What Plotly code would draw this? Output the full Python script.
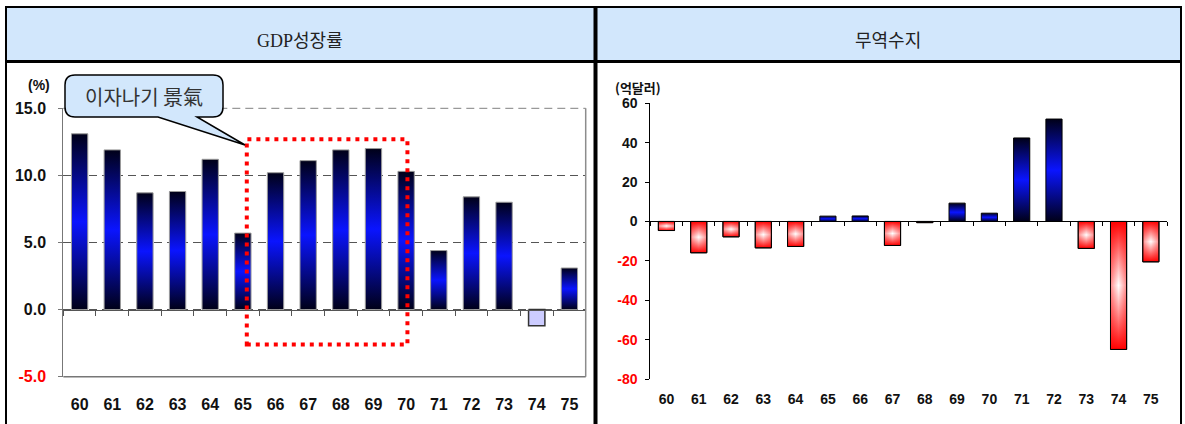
import plotly.graph_objects as go

# ---- data -------------------------------------------------------------
years = ["60", "61", "62", "63", "64", "65", "66", "67",
         "68", "69", "70", "71", "72", "73", "74", "75"]
gdp_growth = [13.1, 11.9, 8.7, 8.8, 11.2, 5.7, 10.2, 11.1,
              11.9, 12.0, 10.3, 4.4, 8.4, 8.0, -1.2, 3.1]
trade_balance = [-4.6, -15.9, -7.8, -13.4, -12.7, 2.7, 2.8, -12.2,
                 -0.6, 9.3, 4.2, 42.4, 52.0, -13.7, -65.0, -20.5]
gdp_ticks = [-5, 0, 5, 10, 15]
trade_ticks = [-80, -60, -40, -20, 0, 20, 40, 60]

# boom period highlighted on the growth chart (category index / value)
boom_box = dict(x0=5.12, x1=10.04, y0=-2.6, y1=12.7)
boom_label = "이자나기 景氣"

# ---- geometry helpers -------------------------------------------------
W, H = 1185, 424


def fx(p):
    return p / W


def fy(p):
    return 1 - p / H


BAR_W = 0.5
BLUE_SCALE = [[0, "#000018"], [0.5, "#0a14ff"], [1, "#000018"]]
RED_SCALE = [[0, "#ff0000"], [0.5, "#ffffff"], [1, "#ff0000"]]
RED_SIDES = [[0, "rgba(255,0,0,0.45)"], [0.5, "rgba(255,0,0,0)"], [1, "rgba(255,0,0,0.45)"]]

left_x = [fx(63.3), fx(585.7)]
left_y = [fy(376.7), fy(108.3)]
right_x = [fx(650.3), fx(1167.0)]
right_y = [fy(379.0), fy(103.3)]

gdp_range = [gdp_ticks[0], gdp_ticks[-1]]
trade_range = [trade_ticks[0], trade_ticks[-1]]


def zero_pos(dom, rng):
    return dom[0] + (0 - rng[0]) / (rng[1] - rng[0]) * (dom[1] - dom[0])


def bar_shape(i, v, xa, ya, scale=None, solid=None, line="#000000",
              direction="vertical", line_width=1):
    hw = BAR_W / 2
    kw = dict(
        x=[i - hw, i + hw, i + hw, i - hw, i - hw],
        y=[0, 0, v, v, 0],
        mode="lines",
        fill="toself",
        line=dict(color=line, width=line_width),
        xaxis=xa, yaxis=ya,
        hoverinfo="skip", showlegend=False,
    )
    if scale is not None:
        kw["fillgradient"] = dict(type=direction, colorscale=scale)
    else:
        kw["fillcolor"] = solid
    return go.Scatter(**kw)


fig = go.Figure()

# GDP growth bars
for i, v in enumerate(gdp_growth):
    if v >= 0:
        fig.add_trace(bar_shape(i, v, "x", "y", scale=BLUE_SCALE, line="#9a9a9a"))
    else:
        fig.add_trace(bar_shape(i, v, "x", "y", solid="#ccccff", line="#333333",
                                line_width=1.5))

# trade balance bars (deficits shaded from the centre outwards in red)
for i, v in enumerate(trade_balance):
    if v >= 0:
        fig.add_trace(bar_shape(i, v, "x2", "y2", scale=BLUE_SCALE, line="#000000"))
    else:
        fig.add_trace(bar_shape(i, v, "x2", "y2", scale=RED_SCALE, line="#000000"))
        fig.add_trace(bar_shape(i, v, "x2", "y2", scale=RED_SIDES, line="#000000",
                                direction="horizontal"))


def tick_text(vals, fmt):
    out = []
    for v in vals:
        s = fmt.format(v)
        if v < 0:
            s = '<span style="color:#ff0000">' + s + "</span>"
        out.append(s)
    return out


big_font = dict(family="Liberation Sans, Arial", size=16, color="#111111", weight="bold")
small_font = dict(family="Liberation Sans, Arial", size=14, color="#111111", weight="bold")
bounds = [i - 0.5 for i in range(len(years) + 1)]

fig.update_layout(
    width=W, height=H,
    margin=dict(l=0, r=0, t=0, b=0, autoexpand=False),
    paper_bgcolor="white", plot_bgcolor="white",
    showlegend=False,
    xaxis=dict(
        domain=left_x, range=[-0.5, len(years) - 0.5],
        anchor="free", position=zero_pos(left_y, gdp_range),
        tickmode="array", tickvals=list(range(len(years))), ticktext=years,
        ticks="", tickfont=big_font, ticklabelstandoff=80,
        showline=True, linecolor="#555555", linewidth=1,
        minor=dict(tickvals=bounds, ticks="outside", ticklen=5,
                   tickcolor="#555555", tickwidth=1),
        showgrid=False, zeroline=False, fixedrange=True, automargin=False,
    ),
    yaxis=dict(
        domain=left_y, range=gdp_range, anchor="x",
        tickmode="array", tickvals=gdp_ticks,
        ticktext=tick_text(gdp_ticks, "{:.1f}"),
        ticks="outside", ticklen=4, tickcolor="#777777",
        tickfont=big_font, ticklabelstandoff=9,
        showline=True, linecolor="#777777", linewidth=1,
        showgrid=True, gridcolor="#555555", griddash="8px,5px", gridwidth=1,
        zeroline=False, fixedrange=True, automargin=False,
    ),
    xaxis2=dict(
        domain=right_x, range=[-0.5, len(years) - 0.5],
        anchor="free", position=zero_pos(right_y, trade_range),
        tickmode="array", tickvals=list(range(len(years))), ticktext=years,
        ticks="", tickfont=small_font, ticklabelstandoff=165,
        showline=True, linecolor="#000000", linewidth=1,
        minor=dict(tickvals=bounds, ticks="outside", ticklen=4,
                   tickcolor="#000000", tickwidth=1),
        showgrid=False, zeroline=False, fixedrange=True, automargin=False,
    ),
    yaxis2=dict(
        domain=right_y, range=trade_range, anchor="x2",
        tickmode="array", tickvals=trade_ticks,
        ticktext=tick_text(trade_ticks, "{:d}"),
        ticks="outside", ticklen=4, tickcolor="#000000",
        tickfont=small_font, ticklabelstandoff=5,
        showline=True, linecolor="#000000", linewidth=1,
        showgrid=False, zeroline=False, fixedrange=True, automargin=False,
    ),
)

# ---- frame, header band ----------------------------------------------
HEAD = "#d2e7fc"
shapes = [
    dict(type="rect", xref="paper", yref="paper", x0=fx(6), x1=fx(1181),
         y0=fy(61), y1=fy(7), fillcolor=HEAD, line=dict(width=0), layer="below"),
    dict(type="line", xref="paper", yref="paper", x0=fx(5), x1=fx(1182),
         y0=fy(7), y1=fy(7), line=dict(color="black", width=2)),
    dict(type="line", xref="paper", yref="paper", x0=fx(5), x1=fx(1182),
         y0=fy(61.5), y1=fy(61.5), line=dict(color="black", width=3)),
    dict(type="line", xref="paper", yref="paper", x0=fx(6), x1=fx(6),
         y0=-0.02, y1=fy(6), line=dict(color="black", width=2)),
    dict(type="line", xref="paper", yref="paper", x0=fx(1181), x1=fx(1181),
         y0=-0.02, y1=fy(6), line=dict(color="black", width=2)),
    dict(type="line", xref="paper", yref="paper", x0=fx(595.5), x1=fx(595.5),
         y0=-0.02, y1=fy(6), line=dict(color="black", width=4)),
    # plot-area border of the growth chart (top dashed, right and bottom solid)
    dict(type="line", xref="x domain", yref="y domain", x0=0, x1=1, y0=1, y1=1,
         line=dict(color="#808080", width=1, dash="8px,5px"), layer="below"),
    dict(type="line", xref="x domain", yref="y domain", x0=1, x1=1, y0=0, y1=1,
         line=dict(color="#8c8c8c", width=1.5)),
    dict(type="line", xref="x domain", yref="y domain", x0=0, x1=1, y0=0, y1=0,
         line=dict(color="#777777", width=1.5)),
    # highlighted boom period
    dict(type="rect", xref="x", yref="y", layer="above",
         x0=boom_box["x0"], x1=boom_box["x1"], y0=boom_box["y0"], y1=boom_box["y1"],
         line=dict(color="#ff0000", width=4, dash="4px,5px")),
]

# speech bubble with pointer
bx0, bx1, by0, by1, r = 65, 223, 75, 117, 10
pts = [
    ("M", (bx0 + r, by0)), ("L", (bx1 - r, by0)), ("Q", (bx1, by0), (bx1, by0 + r)),
    ("L", (bx1, by1 - r)), ("Q", (bx1, by1), (bx1 - r, by1)),
    ("L", (197, by1)), ("L", (245, 145)), ("L", (158, by1)),
    ("L", (bx0 + r, by1)), ("Q", (bx0, by1), (bx0, by1 - r)),
    ("L", (bx0, by0 + r)), ("Q", (bx0, by0), (bx0 + r, by0)),
]
path = ""
for cmd, *coords in pts:
    path += cmd + " " + " ".join(f"{fx(a):.5f},{fy(b):.5f}" for a, b in coords) + " "
path += "Z"
shapes.append(dict(type="path", xref="paper", yref="paper", path=path,
                   fillcolor=HEAD, line=dict(color="black", width=1.5), layer="above"))
fig.update_layout(shapes=shapes)

# ---- text ------------------------------------------------------------
title_font = dict(family="Liberation Serif, Noto Sans CJK KR", size=18, color="#222222")
ann = [
    dict(text="GDP성장률", x=fx(300), y=fy(40.5), font=title_font),
    dict(text="무역수지", x=fx(888), y=fy(40.5), font=title_font),
    dict(text="(%)", x=fx(39), y=fy(85),
         font=dict(family="Liberation Sans, Arial", size=14, color="#111111", weight="bold")),
    dict(text="(억달러)", x=fx(638.5), y=fy(88),
         font=dict(family="Noto Sans CJK KR", size=13, color="#111111", weight="bold")),
    dict(text=boom_label, x=fx(144), y=fy(97),
         font=dict(family="Noto Sans CJK KR", size=20, color="#333333")),
]
for a in ann:
    a.update(xref="paper", yref="paper", showarrow=False, xanchor="center", yanchor="middle")
fig.update_layout(annotations=ann)

fig.write_html("out.html")
